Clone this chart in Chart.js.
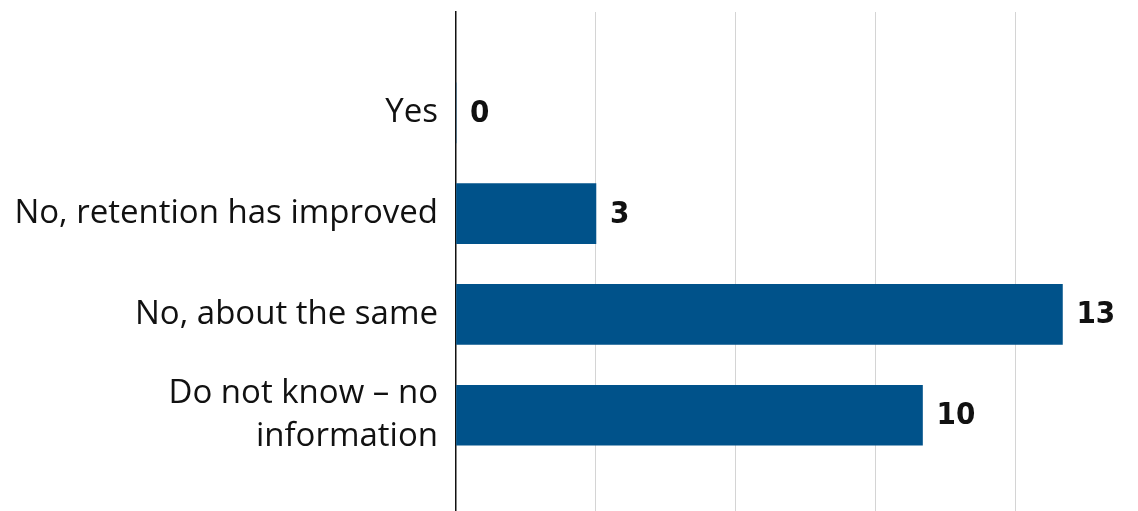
<!DOCTYPE html>
<html>
<head>
<meta charset="utf-8">
<script src="https://cdn.jsdelivr.net/npm/chart.js@4.4.0/dist/chart.umd.min.js"></script>
<style>
  html, body { margin: 0; padding: 0; background: #fff; }
  #wrap { width: 1138px; height: 511px; position: relative; }
</style>
</head>
<body>
<div id="wrap"><canvas id="chart"></canvas></div>
<script>
  const CATEGORIES = [
    'Yes',
    'No, retention has improved',
    'No, about the same',
    ['Do not know – no', 'information']
  ];
  const VALUES = [0, 3, 13, 10];
  const X_TICKS = [0, 3, 6, 9, 12];

  const LABEL_FONT = "'Open Sans', 'DejaVu Sans', sans-serif";
  const VALUE_FONT = "'DejaVu Sans Condensed', 'DejaVu Sans', sans-serif";
  const BAR_COLOR = '#00528a';

  // value labels to the right of each bar
  const valueLabels = {
    id: 'valueLabels',
    afterDatasetsDraw(chart) {
      const { ctx } = chart;
      const meta = chart.getDatasetMeta(0);
      ctx.save();
      ctx.font = "bold 31px " + VALUE_FONT;
      ctx.fillStyle = '#111';
      ctx.textAlign = 'left';
      ctx.textBaseline = 'middle';
      meta.data.forEach((bar, i) => {
        ctx.fillText(String(VALUES[i]), bar.x + 14, bar.y + 1);
      });
      ctx.restore();
    }
  };

  new Chart(document.getElementById('chart'), {
    type: 'bar',
    data: {
      datasets: [
        {
          data: VALUES.map((v, i) => ({ x: v, y: i })),
          backgroundColor: BAR_COLOR,
          barThickness: 60
        }
      ]
    },
    options: {
      indexAxis: 'y',
      responsive: true,
      maintainAspectRatio: false,
      animation: false,
      layout: { padding: { top: 12, right: 0, bottom: 0, left: 0 } },
      plugins: { legend: { display: false }, tooltip: { enabled: false } },
      scales: {
        x: {
          type: 'linear',
          min: 0,
          max: 14.62,
          afterBuildTicks: (s) => { s.ticks = X_TICKS.map((v) => ({ value: v })); },
          afterFit: (s) => { s.height = 0; s.paddingLeft = 0; s.paddingRight = 0; },
          ticks: { display: false },
          border: { display: false },
          grid: {
            color: (c) => (c.tick && c.tick.value === 0 ? 'rgba(0,0,0,0)' : '#d4d4d4'),
            lineWidth: 1,
            drawTicks: false
          }
        },
        y: {
          type: 'linear',
          offset: false,
          grace: 0,
          reverse: true,
          min: -1,
          max: 3.95,
          afterBuildTicks: (s) => { s.ticks = CATEGORIES.map((c, i) => ({ value: i })); },
          afterFit: (s) => { s.width = 456; s.paddingTop = 0; s.paddingBottom = 0; },
          ticks: {
            autoSkip: false,
            padding: 18,
            color: '#111',
            font: { family: LABEL_FONT, size: 33, lineHeight: 1.3 },
            callback: (v) => CATEGORIES[v]
          },
          grid: { display: false, drawTicks: false },
          border: { display: true, color: '#111', width: 1.5 }
        }
      }
    },
    plugins: [valueLabels]
  });
</script>
</body>
</html>
